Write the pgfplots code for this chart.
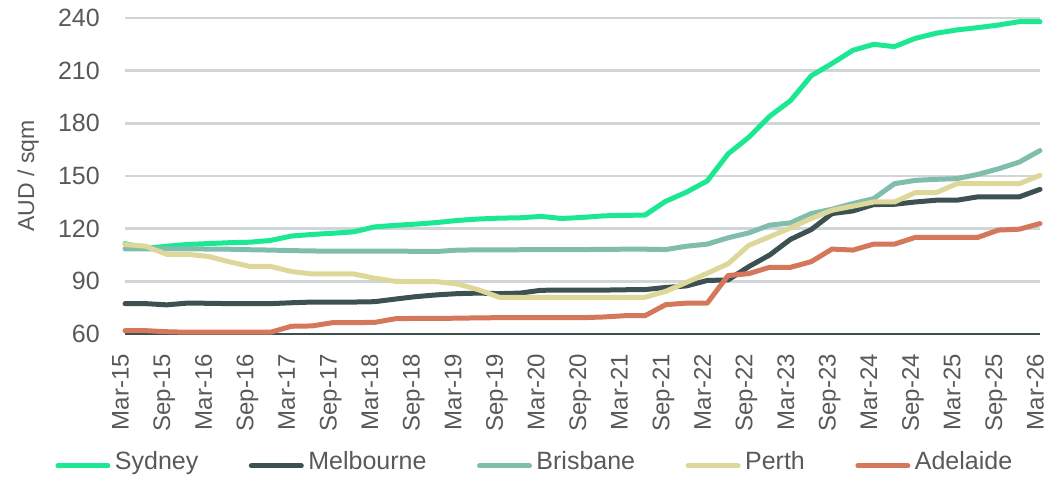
\documentclass[border=0pt]{standalone}
\usepackage{fontspec}
\setmainfont{Liberation Sans}
\usepackage{pgfplots}
\pgfplotsset{compat=1.18}
\usepackage{pgfplotstable}

\definecolor{sydney}{RGB}{28,232,148}
\definecolor{melbourne}{RGB}{62,81,82}
\definecolor{brisbane}{RGB}{128,189,172}
\definecolor{perth}{RGB}{221,216,153}
\definecolor{adelaide}{RGB}{212,119,90}
\definecolor{gridgray}{RGB}{208,213,216}
\definecolor{labelgray}{RGB}{89,89,89}
\definecolor{axisdark}{RGB}{62,79,80}

% Quarterly rents, AUD per sqm; q = quarters since Mar-15
\pgfplotstableread{
q   syd    mel    bri    per    ade
0   111.5  77.3   108.5  111.0  61.9
1   108.8  77.3   108.5  110.0  61.9
2   110.0  76.6   108.5  105.4  61.3
3   111.0  77.6   108.5  105.4  61.0
4   111.5  77.5   108.4  104.2  61.0
5   112.0  77.3   108.3  101.2  61.0
6   112.3  77.3   108.0  98.5   61.0
7   113.3  77.3   107.8  98.5   61.0
8   115.8  77.8   107.5  95.6   64.4
9   116.7  78.2   107.3  94.2   64.6
10  117.4  78.2   107.2  94.2   66.5
11  118.2  78.2   107.2  94.2   66.5
12  121.0  78.4   107.2  91.8   66.6
13  121.9  79.9   107.2  90.0   68.7
14  122.6  81.3   107.1  89.8   68.9
15  123.5  82.3   107.0  89.8   68.9
16  124.7  83.0   107.8  88.5   69.0
17  125.5  83.3   107.9  85.2   69.2
18  126.0  83.0   107.9  80.9   69.3
19  126.2  83.3   108.0  80.9   69.3
20  127.0  84.9   108.0  80.9   69.3
21  125.8  85.0   108.0  80.9   69.3
22  126.4  85.0   108.1  80.9   69.3
23  127.3  85.0   108.2  80.9   69.7
24  127.6  85.2   108.3  80.9   70.4
25  127.7  85.3   108.3  80.9   70.4
26  135.6  86.5   108.1  84.3   76.7
27  140.8  87.4   110.0  89.4   77.6
28  147.2  90.5   111.2  94.6   77.6
29  162.6  90.8   114.8  100.0  93.3
30  172.1  98.4   117.6  110.5  94.4
31  184.0  105.0  122.0  115.4  98.0
32  192.9  113.9  123.3  120.5  98.0
33  207.1  119.5  128.6  125.8  101.2
34  214.1  128.6  131.1  130.5  108.4
35  221.6  130.1  134.3  132.8  107.8
36  225.0  133.7  137.1  135.2  111.2
37  223.7  133.9  145.6  135.2  111.2
38  228.4  135.2  147.5  140.5  115.0
39  231.3  136.2  148.1  140.5  115.0
40  233.2  136.2  148.5  145.6  115.0
41  234.5  138.1  150.9  145.6  115.0
42  236.0  138.1  154.1  145.6  119.2
43  237.9  138.1  157.9  145.6  119.7
44  237.9  142.4  164.5  150.4  122.9
}\rents

\begin{document}
\begin{tikzpicture}
\useasboundingbox (0,0) rectangle (1051pt,483pt);
\begin{axis}[
  scale only axis,
  width=915pt, height=316pt,
  at={(125pt,149pt)}, anchor=south west,
  xmin=0, xmax=44, ymin=60, ymax=240,
  clip=false,
  axis line style={draw=none},
  major tick length=0pt,
  xtick={0,2,...,44},
  xticklabels={Mar-15,Sep-15,Mar-16,Sep-16,Mar-17,Sep-17,Mar-18,Sep-18,Mar-19,Sep-19,Mar-20,Sep-20,Mar-21,Sep-21,Mar-22,Sep-22,Mar-23,Sep-23,Mar-24,Sep-24,Mar-25,Sep-25,Mar-26},
  ytick={60,90,...,240},
  ymajorgrids,
  major grid style={line width=2.5pt, color=gridgray},
  /pgf/number format/assume math mode=true,
  tick label style={text=labelgray},
  xticklabel style={rotate=90, anchor=east, inner sep=0pt,
    text height=0.716em, text depth=0pt,
    font=\fontsize{24}{28}\selectfont},
  xticklabel shift=20pt,
  yticklabel style={anchor=east, inner sep=0pt, font=\fontsize{25}{30}\selectfont},
  yticklabel shift=25pt,
  ylabel={AUD / sqm},
  ylabel style={at={(axis description cs:-0.094,0.5)}, anchor=south,
    inner sep=0pt, text=labelgray, font=\fontsize{23}{28}\selectfont},
  legend columns=5,
  legend style={at={(axis description cs:-0.0760,-0.4177)}, anchor=west,
    draw=none, fill=none, inner sep=0pt, outer sep=0pt,
    font=\fontsize{25}{30}\selectfont, text=labelgray,
    nodes={inner sep=0pt, text height=0.716em, text depth=0pt},
    /tikz/every odd column/.append style={column sep=4.5pt},
    /tikz/every even column/.append style={column sep=50.5pt}},
  legend image code/.code={\draw[#1, line width=5pt, line cap=round] (0pt,0pt) -- (50pt,0pt);},
  every axis plot/.append style={line width=5pt, line join=round, line cap=round, no markers},
]
\draw[axisdark, line width=2.2pt] (rel axis cs:0,0) -- (rel axis cs:1,0);
\addplot[sydney]    table[x=q, y=syd] {\rents};
\addplot[melbourne] table[x=q, y=mel] {\rents};
\addplot[brisbane]  table[x=q, y=bri] {\rents};
\addplot[perth]     table[x=q, y=per] {\rents};
\addplot[adelaide]  table[x=q, y=ade] {\rents};
\legend{Sydney, Melbourne, Brisbane, Perth, Adelaide}
\end{axis}
\end{tikzpicture}
\end{document}
